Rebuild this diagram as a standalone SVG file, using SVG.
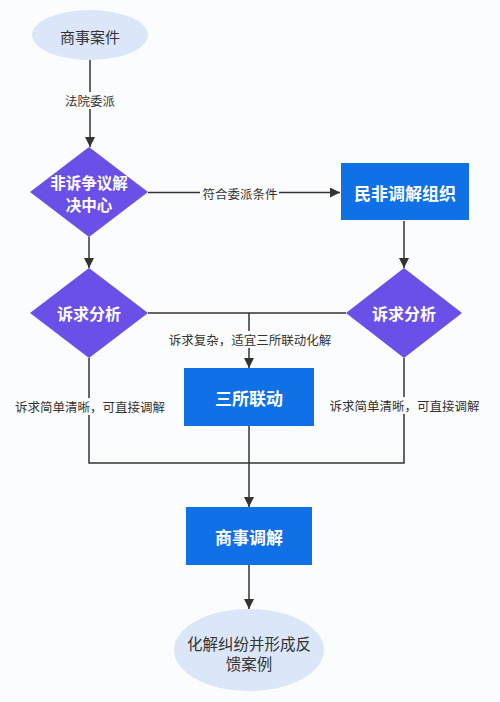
<svg xmlns="http://www.w3.org/2000/svg" width="500" height="702" viewBox="0 0 500 702">
<defs>
<style>
.t{font-family:"Noto Sans CJK SC","Liberation Sans",sans-serif;text-anchor:middle;dominant-baseline:central}
.lbl{font-size:12.5px;fill:#333}
.w{fill:#fff;font-weight:bold}
.ell{fill:#dbe7f8}
.dia{fill:#6b50e8}
.box{fill:#1070e6}
.ln{stroke:#333;stroke-width:1.5;fill:none}
.bg{fill:#fbfcfd}
</style>
<marker id="ah" viewBox="0 0 10 10" refX="10" refY="5" markerWidth="10" markerHeight="10" markerUnits="userSpaceOnUse" orient="auto">
<path d="M0,0 L10,5 L0,10 Z" fill="#333"/>
</marker>
</defs>
<rect x="0" y="0" width="500" height="702" fill="#fbfcfd"/>
<g id="connectors">
<line class="ln" x1="90" y1="60" x2="90" y2="147" marker-end="url(#ah)"/>
<line class="ln" x1="148" y1="192.5" x2="340" y2="192.5" marker-end="url(#ah)"/>
<line class="ln" x1="404" y1="221" x2="404" y2="268" marker-end="url(#ah)"/>
<line class="ln" x1="89" y1="237" x2="89" y2="268" marker-end="url(#ah)"/>
<line class="ln" x1="148" y1="313" x2="346" y2="313"/>
<line class="ln" x1="249" y1="313" x2="249" y2="368" marker-end="url(#ah)"/>
<polyline class="ln" points="89,358 89,463 249,463"/>
<polyline class="ln" points="404,358 404,463 249,463"/>
<line class="ln" x1="249" y1="426" x2="249" y2="507" marker-end="url(#ah)"/>
<line class="ln" x1="249" y1="565" x2="249" y2="609" marker-end="url(#ah)"/>
<rect class="bg" x="63" y="92" width="54" height="17"/>
<text class="t lbl" x="90" y="100">法院委派</text>
<rect class="bg" x="200" y="184" width="79" height="17"/>
<text class="t lbl" x="240" y="193">符合委派条件</text>
<rect class="bg" x="167" y="331" width="166" height="17"/>
<text class="t lbl" x="250" y="339">诉求复杂，适宜三所联动化解</text>
<rect class="bg" x="14" y="398" width="152" height="17"/>
<text class="t lbl" x="90" y="406">诉求简单清晰，可直接调解</text>
<rect class="bg" x="328" y="397" width="153" height="17"/>
<text class="t lbl" x="404.5" y="405">诉求简单清晰，可直接调解</text>
</g>
<g id="start">
<ellipse class="ell" cx="90" cy="35" rx="58" ry="25"/>
<text class="t" x="90" y="36" font-size="15" fill="#333">商事案件</text>
</g>
<g id="center">
<polygon class="dia" points="89,147 148,192 89,237 30,192"/>
<text class="t w" x="89" y="181.5" font-size="15.5">非诉争议解</text>
<text class="t w" x="89" y="204" font-size="15.5">决中心</text>
</g>
<g id="org">
<rect class="box" x="341" y="163" width="128" height="57"/>
<text class="t w" x="405" y="192" font-size="17">民非调解组织</text>
</g>
<g id="analysis-left">
<polygon class="dia" points="89,268 148,313 89,358 30,313"/>
<text class="t w" x="89" y="313" font-size="16">诉求分析</text>
</g>
<g id="analysis-right">
<polygon class="dia" points="404,268 462,313 404,358 346,313"/>
<text class="t w" x="404" y="313" font-size="16">诉求分析</text>
</g>
<g id="sansuo">
<rect class="box" x="184" y="368" width="130" height="58"/>
<text class="t w" x="249" y="397" font-size="17">三所联动</text>
</g>
<g id="mediation">
<rect class="box" x="186" y="507" width="126" height="58"/>
<text class="t w" x="249" y="536" font-size="17">商事调解</text>
</g>
<g id="end">
<ellipse class="ell" cx="249" cy="650" rx="75" ry="41"/>
<text class="t" x="249" y="643" font-size="15.5" fill="#333">化解纠纷并形成反</text>
<text class="t" x="249" y="663" font-size="15.5" fill="#333">馈案例</text>
</g>
</svg>
